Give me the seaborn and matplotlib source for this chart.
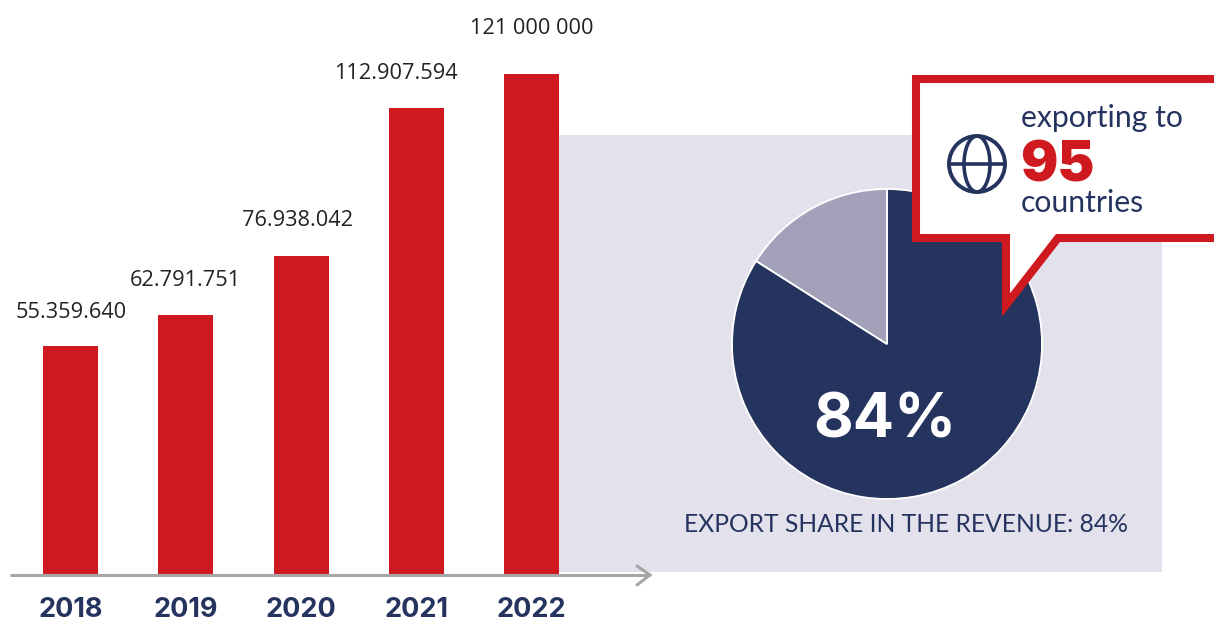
import matplotlib
matplotlib.use("Agg")
import matplotlib.pyplot as plt
from matplotlib.patches import Rectangle, Polygon, Circle, Ellipse
import pandas as pd
import seaborn as sns

years = ["2018", "2019", "2020", "2021", "2022"]
revenue = [55359640, 62791751, 76938042, 112907594, 121000000]
revenue_labels = ["55.359.640", "62.791.751", "76.938.042", "112.907.594", "121 000 000"]
export_share = [84, 16]

RED = "#CE1A1F"
NAVY = "#25335F"
GREY_SLICE = "#A3A1B9"
PANEL = "#E3E2EC"
AXIS = "#A6A6A6"
W, H = 1214, 624

sns.set_theme(style="white")
plt.rcParams["font.family"] = ["Open Sans", "DejaVu Sans"]
fig = plt.figure(figsize=(W / 100, H / 100), dpi=100, facecolor="white")

# Full-figure layer measured in pixels, used for the backdrop and the decoration.
bg = fig.add_axes([0, 0, 1, 1], zorder=0)
bg.set_xlim(0, W); bg.set_ylim(H, 0); bg.axis("off")
bg.add_patch(Rectangle((559, 135), 603, 437, fc=PANEL, ec="none"))

# Revenue bars: baseline sits on the arrow axis.
base_y, px_per_unit, first_x, step = 575, 4.14e-6, 70.5, 115.25
ax = fig.add_axes([0, 1 - base_y / H, 1, base_y / H], zorder=1)
ax.patch.set_alpha(0)
df = pd.DataFrame({"year": years, "revenue": revenue})
sns.barplot(data=df, x="year", y="revenue", color=RED, saturation=1, width=55 / step,
            linewidth=0, ax=ax)
ax.set_xlim(-first_x / step, (W - first_x) / step)
ax.set_ylim(0, base_y / px_per_unit)
ax.set_xlabel(""); ax.set_ylabel(""); ax.set_yticks([])
sns.despine(ax=ax, left=True, bottom=True)
ax.tick_params(axis="x", length=0, pad=16)
for lab in ax.get_xticklabels():
    lab.set(color=NAVY, fontsize=19.5, fontweight="bold", family="Inter")

offsets = [(1, 23), (0, 24), (-3, 25), (-20, 24), (0, 35)]
for i, (val, text) in enumerate(zip(revenue, revenue_labels)):
    ax.annotate(text, (i, val), xytext=offsets[i], textcoords="offset pixels",
                ha="center", va="bottom", fontsize=15.7, color="#222222")

# Export share pie.
r = 155
pie_ax = fig.add_axes([(887 - r) / W, 1 - (344 + r) / H, 2 * r / W, 2 * r / H], zorder=2)
pie_ax.pie(export_share, colors=[NAVY, GREY_SLICE], startangle=90, counterclock=False,
           radius=1, wedgeprops={"edgecolor": "white", "linewidth": 1.3})
pie_ax.set_xlim(-1, 1); pie_ax.set_ylim(-1, 1)

# Foreground layer: axis arrow, callout and captions.
fg = fig.add_axes([0, 0, 1, 1], zorder=3)
fg.set_xlim(0, W); fg.set_ylim(H, 0); fg.axis("off"); fg.patch.set_alpha(0)
fg.plot([10, 650], [575, 575], color=AXIS, lw=2.2, solid_capstyle="butt")
fg.plot([637, 650, 637], [566, 575, 585], color=AXIS, lw=2.2, solid_joinstyle="miter")

fg.text(885, 421, f"{export_share[0]}%", color="white", fontsize=44, fontweight="bold",
        family="Inter", ha="center", va="center")
fg.text(905.5, 525, f"EXPORT SHARE IN THE REVENUE: {export_share[0]}%", color=NAVY,
        fontsize=17.7, ha="center", va="center", family="Lato")

fg.add_patch(Polygon([(916, 79), (1222, 79), (1222, 238), (1058, 238), (1006, 305),
                      (1006, 238), (916, 238)], closed=True, fc="white", ec=RED,
                     lw=5.8, joinstyle="miter", clip_on=True))

# Globe icon.
cx, cy = 977, 164
fg.add_patch(Circle((cx, cy), 28, fc="none", ec=NAVY, lw=2.8))
fg.add_patch(Ellipse((cx, cy), 26, 56, fc="none", ec=NAVY, lw=2.6))
fg.plot([cx - 28, cx + 28], [cy, cy], color=NAVY, lw=2.6)

fg.text(1021, 118, "exporting to", color=NAVY, fontsize=21.7, family="Lato", va="center")
fg.text(1020, 167, "95", color=RED, fontsize=40, fontweight="black", family="Inter", va="center")
fg.text(1021, 203, "countries", color=NAVY, fontsize=21.7, family="Lato", va="center")

fig.savefig("out.png", dpi=100)
